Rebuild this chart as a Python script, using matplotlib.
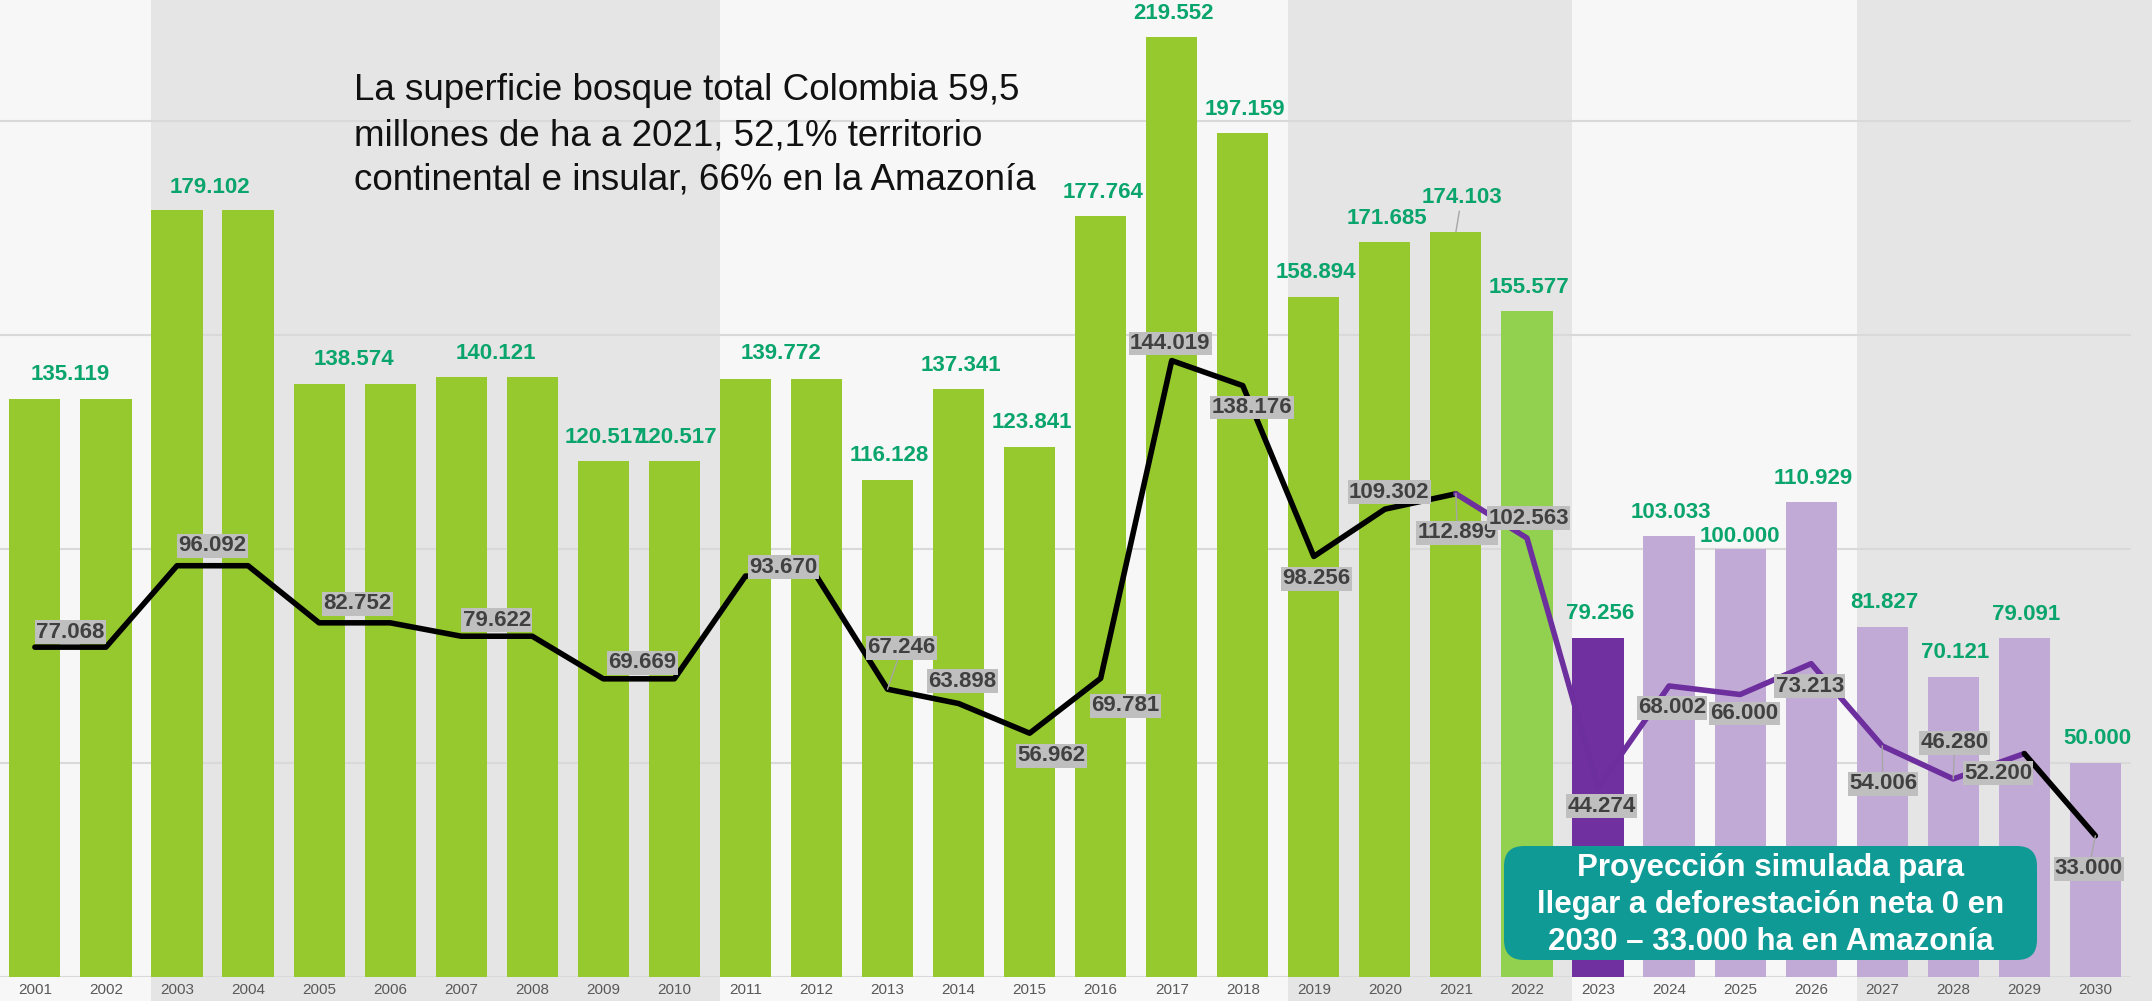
import matplotlib
matplotlib.use("Agg")
import matplotlib.pyplot as plt
from matplotlib import transforms
from matplotlib.patches import FancyBboxPatch

plt.rcParams['font.family'] = ['Liberation Sans', 'DejaVu Sans']

# ---------------- data ----------------
years = list(range(2001, 2031))
national_ha = [135119, 135119, 179102, 179102, 138574, 138574, 140121, 140121,
               120517, 120517, 139772, 139772, 116128, 137341, 123841, 177764,
               219552, 197159, 158894, 171685, 174103, 155577, 79256, 103033,
               100000, 110929, 81827, 70121, 79091, 50000]
amazon_ha = [77068, 77068, 96092, 96092, 82752, 82752, 79622, 79622,
             69669, 69669, 93670, 93670, 67246, 63898, 56962, 69781,
             144019, 138176, 98256, 109302, 112899, 102563, 44274, 68002,
             66000, 73213, 54006, 46280, 52200, 33000]
bar_kind = ['obs'] * 21 + ['obs_last', 'proj_first'] + ['proj'] * 7
hidden_bar_labels = [2002, 2004, 2006, 2008, 2012]
hidden_line_labels = [2002, 2004, 2006, 2008, 2010, 2012]
purple_span = (2021, 2029)          # projection segment of the Amazon line
band_starts = [2001, 2003, 2011, 2019, 2023, 2027]
band_kind = ['light', 'dark', 'light', 'dark', 'light', 'dark']

title_text = ("La superficie bosque total Colombia 59,5\n"
              "millones de ha a 2021, 52,1% territorio\n"
              "continental e insular, 66% en la Amazonía")
box_text = ("Proyección simulada para\n"
            "llegar a deforestación neta 0 en\n"
            "2030 – 33.000 ha en Amazonía")

# ---------------- style ----------------
bar_colors = {'obs': '#95c92e', 'obs_last': '#92d050',
              'proj_first': '#7030a0', 'proj': '#c2aad6'}
band_colors = {'light': '#f7f7f7', 'dark': '#e5e5e5'}
green_txt = '#0aa56c'
grid_col = '#d9d9d9'
bar_w = 0.72

# label offsets: (dx in category units, dy in pixels)
bar_lab_off = {2001: (0.5, 24), 2003: (0.46, 23), 2005: (0.49, 24),
               2007: (0.49, 24), 2011: (0.5, 25), 2021: (0.08, 34),
               2025: (0.0, 12)}
bar_lab_default = (0.03, 24)
bar_leaders = [2021]
line_lab_off = {2001: (0.5, 15), 2003: (0.5, 20), 2005: (0.54, 19),
                2007: (0.5, 16), 2009: (0.55, 16), 2011: (0.54, 9),
                2013: (0.2, 41.5), 2014: (0.05, 22.5), 2015: (0.31, -22.5),
                2016: (0.35, -27.4), 2017: (-0.02, 17), 2018: (0.13, -22),
                2019: (0.04, -22.5), 2020: (0.06, 17), 2021: (0.02, -39),
                2022: (0.02, 20), 2023: (0.05, -18.7), 2024: (0.04, -22),
                2025: (0.06, -19), 2026: (-0.02, -22.4), 2027: (0.01, -38),
                2028: (0.02, 36), 2029: (-0.37, -19.7), 2030: (-0.09, -33)}
line_leaders = [2013, 2021, 2027, 2028, 2030]

W, H, DPI = 2152, 1001, 100
fig = plt.figure(figsize=(W / DPI, H / DPI), dpi=DPI)
fig.patch.set_facecolor(band_colors['light'])
ax = fig.add_axes([0, 24 / H, 1, 1 - 24 / H])
ax.set_facecolor(band_colors['light'])
for s in ax.spines.values():
    s.set_visible(False)

x = list(range(len(years)))
ax.set_xlim(-0.491, 29.797)
ax.set_ylim(0, 228270)

# background bands
idx = {y: i for i, y in enumerate(years)}
edges = [idx[b] - bar_w / 2 for b in band_starts] + [len(years) + 1]
edges[0] = -1
for k, kind in enumerate(band_kind):
    ax.axvspan(edges[k], edges[k + 1], ymin=-0.05, ymax=1,
               color=band_colors[kind], lw=0, zorder=0, clip_on=False)

# gridlines
for gy in [0, 50000, 100000, 150000, 200000]:
    ax.hlines(gy, -0.6, 29.5, color=grid_col, lw=1.5, zorder=1)

# bars
ax.bar(x, national_ha, width=bar_w,
       color=[bar_colors[k] for k in bar_kind], zorder=2)

# line
i0, i1 = idx[purple_span[0]], idx[purple_span[1]]
lw = 4.0
ax.plot(x[:i0 + 1], amazon_ha[:i0 + 1], color='black', lw=lw, zorder=3,
        solid_joinstyle='round', solid_capstyle='round')
ax.plot(x[i0:i1 + 1], amazon_ha[i0:i1 + 1], color='#6d2e9e', lw=lw, zorder=3,
        solid_joinstyle='round', solid_capstyle='round')
ax.plot(x[i1:], amazon_ha[i1:], color='black', lw=lw, zorder=3,
        solid_joinstyle='round', solid_capstyle='round')


def fmt(v):
    return f"{v:,}".replace(",", ".")


leader = dict(arrowstyle='-', color='#a6a6a6', lw=1.0, shrinkA=0, shrinkB=0)

# bar labels
for i, (yr, v) in enumerate(zip(years, national_ha)):
    if yr in hidden_bar_labels:
        continue
    dx, dy = bar_lab_off.get(yr, bar_lab_default)
    tr = transforms.offset_copy(ax.transData, fig=fig, x=0, y=dy * 72 / DPI,
                                units='points')
    ax.annotate(fmt(v), xy=(i, v), xytext=(i + dx, v), textcoords=tr,
                ha='center', va='center', fontsize=16, fontweight='bold',
                color=green_txt, zorder=6,
                arrowprops=leader if yr in bar_leaders else None)

# line labels
for i, (yr, v) in enumerate(zip(years, amazon_ha)):
    if yr in hidden_line_labels:
        continue
    dx, dy = line_lab_off[yr]
    tr = transforms.offset_copy(ax.transData, fig=fig, x=0, y=dy * 72 / DPI,
                                units='points')
    ax.annotate(fmt(v), xy=(i, v), xytext=(i + dx, v), textcoords=tr,
                ha='center', va='center', fontsize=16, fontweight='bold',
                color='#404040', zorder=6,
                bbox=dict(boxstyle='square,pad=0.06', fc='#bfbfbf', ec='none'),
                arrowprops=leader if yr in line_leaders else None)

# x tick labels
ax.set_xticks(x)
ax.set_xticklabels([str(y) for y in years], fontsize=11, color='#595959')
ax.tick_params(axis='x', length=0, pad=4)
ax.set_yticks([])

# title annotation (baseline of the last line)
fig.text(354 / W, 1 - 190 / H, title_text, fontsize=26.5, color='#111111',
         ha='left', va='baseline', linespacing=1.37)

# teal box
box = FancyBboxPatch((1504 / DPI, 41 / DPI), 533 / DPI, 114 / DPI,
                     boxstyle='round,pad=0,rounding_size=0.2',
                     transform=fig.dpi_scale_trans, fc='#109a95', ec='none',
                     zorder=10)
fig.patches.append(box)
fig.text(1770.5 / W, 1 - 905 / H, box_text, fontsize=22.5, fontweight='bold',
         color='white', ha='center', va='center', multialignment='center',
         linespacing=1.29, zorder=11)

fig.savefig('out.png', dpi=DPI, facecolor=fig.get_facecolor())
